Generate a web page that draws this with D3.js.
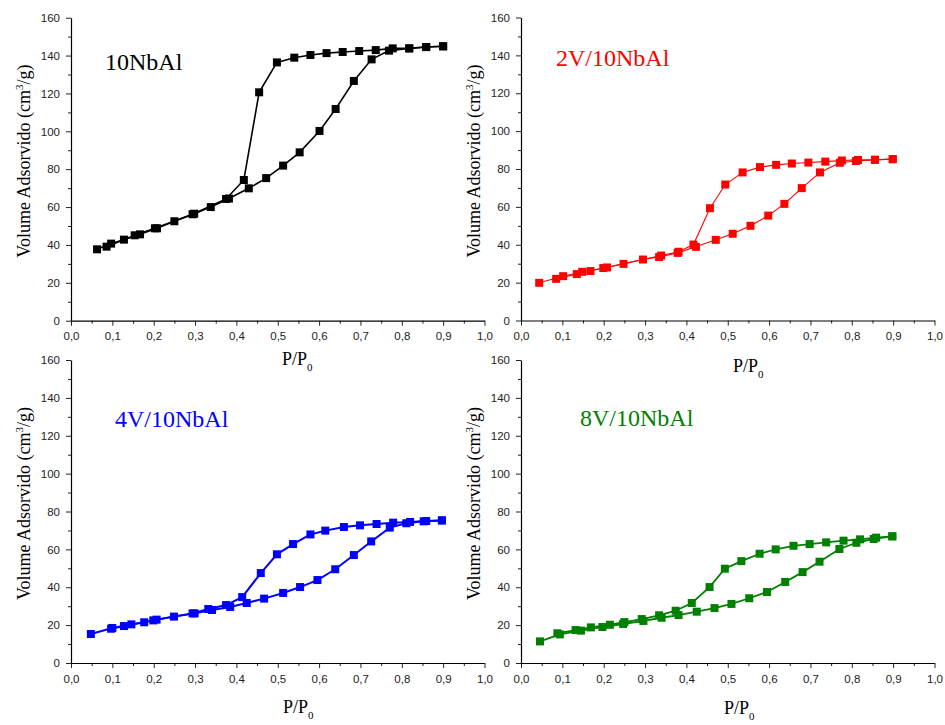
<!DOCTYPE html>
<html>
<head>
<meta charset="utf-8">
<script src="https://cdn.jsdelivr.net/npm/d3@7"></script>
<style>
  body { margin: 0; background: #fff; }
  svg { display: block; }
</style>
</head>
<body>
<div id="chart"></div>
<script>
// tick values
var xMajor = [0, 0.1, 0.2, 0.3, 0.4, 0.5, 0.6, 0.7, 0.8, 0.9, 1.0];
var xMinor = [0.05, 0.15, 0.25, 0.35, 0.45, 0.55, 0.65, 0.75, 0.85, 0.95];
var yMajor = [0, 20, 40, 60, 80, 100, 120, 140, 160];
var yMinor = [10, 30, 50, 70, 90, 110, 130, 150];

// 10NbAl
var ads10NbAl = [[0.063,37.7],[0.097,40.7],[0.128,42.8],[0.167,45.6],[0.208,48.8],[0.250,52.5],[0.298,56.5],[0.338,60.0],[0.382,64.5],[0.430,69.9],[0.472,75.3],[0.513,81.9],[0.553,88.9],[0.601,100.2],[0.640,111.8],[0.684,126.6],[0.727,138.0],[0.769,142.6],[0.818,143.8],[0.859,144.5],[0.900,144.9]];
var des10NbAl = [[0.900,144.9],[0.859,144.5],[0.818,143.8],[0.778,143.8],[0.737,142.9],[0.697,142.4],[0.657,141.9],[0.618,141.3],[0.579,140.3],[0.540,138.9],[0.498,136.4],[0.455,120.6],[0.418,74.3],[0.375,64.3],[0.294,56.2],[0.203,48.8],[0.154,45.1],[0.086,39.1]];

// 2V/10NbAl
var ads2V = [[0.044,19.9],[0.102,23.4],[0.148,25.7],[0.208,28.0],[0.248,29.9],[0.295,32.2],[0.334,33.5],[0.379,35.7],[0.423,38.9],[0.471,42.6],[0.512,45.8],[0.555,50.0],[0.598,55.4],[0.637,61.6],[0.679,69.9],[0.723,78.2],[0.771,83.3],[0.810,84.2],[0.856,84.8],[0.899,85.2]];
var des2V = [[0.899,85.2],[0.856,84.9],[0.815,84.8],[0.776,84.5],[0.736,83.9],[0.695,83.4],[0.655,82.9],[0.617,82.2],[0.578,81.0],[0.536,78.2],[0.494,71.8],[0.457,59.3],[0.417,40.1],[0.381,36.3],[0.339,34.3],[0.199,27.7],[0.168,26.1],[0.135,24.5],[0.085,22.0]];

// 4V/10NbAl
var ads4V = [[0.048,15.3],[0.100,18.5],[0.146,20.4],[0.199,22.5],[0.249,24.5],[0.299,26.2],[0.341,28.0],[0.385,29.6],[0.425,31.7],[0.467,34.0],[0.513,37.0],[0.554,40.1],[0.596,43.8],[0.639,49.5],[0.684,57.0],[0.726,64.2],[0.771,71.5],[0.811,73.8],[0.853,74.8],[0.897,75.3]];
var des4V = [[0.897,75.3],[0.859,75.0],[0.820,74.5],[0.779,74.1],[0.739,73.4],[0.699,72.7],[0.660,71.8],[0.615,69.9],[0.579,67.9],[0.537,62.8],[0.498,57.4],[0.459,47.5],[0.414,34.8],[0.375,30.6],[0.332,28.5],[0.294,26.2],[0.207,22.9],[0.177,21.5],[0.128,19.5],[0.097,18.1]];

// 8V/10NbAl
var ads8V = [[0.046,11.4],[0.094,15.1],[0.145,17.1],[0.197,19.0],[0.247,20.6],[0.296,22.2],[0.340,23.9],[0.381,25.3],[0.425,27.1],[0.468,29.0],[0.509,31.2],[0.552,34.2],[0.595,37.5],[0.639,42.8],[0.681,48.0],[0.722,53.5],[0.770,60.2],[0.811,63.5],[0.853,65.5],[0.898,66.9]];
var des8V = [[0.898,66.9],[0.859,66.2],[0.820,65.3],[0.780,64.6],[0.738,63.7],[0.698,62.8],[0.659,61.9],[0.616,60.0],[0.577,57.7],[0.533,53.8],[0.493,49.8],[0.456,40.1],[0.413,31.7],[0.374,27.6],[0.334,25.2],[0.292,23.2],[0.250,21.6],[0.215,20.2],[0.169,18.8],[0.132,17.4],[0.088,15.7]];

var svg = d3.select("#chart")
    .append("svg")
    .attr("width", 945)
    .attr("height", 725);

var width = 413.5, height = 303;
var serif = "'Liberation Serif', 'Times New Roman', serif";
var sans = "'Liberation Sans', Arial, sans-serif";
var fmt = function (d) { return d3.format(".1f")(d).replace(".", ","); };

function drawPanel(p) {
    var g = svg.append("g")
        .attr("transform", "translate(" + p.left + "," + p.top + ")");

    var x = d3.scaleLinear().domain([0, 1]).range([0, width]);
    var y = d3.scaleLinear().domain([0, 160]).range([height, 0]);

    // minor ticks first
    g.append("g")
        .attr("class", "minor")
        .attr("transform", "translate(0," + height + ")")
        .call(d3.axisBottom(x).tickValues(xMinor).tickSize(3).tickFormat(""));
    g.append("g")
        .attr("class", "minor")
        .call(d3.axisLeft(y).tickValues(yMinor).tickSize(3).tickFormat(""));

    // major axes
    g.append("g")
        .attr("class", "axis")
        .attr("transform", "translate(0," + height + ")")
        .call(d3.axisBottom(x).tickValues(xMajor).tickSize(5).tickSizeOuter(0).tickPadding(6.5).tickFormat(fmt));
    g.append("g")
        .attr("class", "axis")
        .call(d3.axisLeft(y).tickValues(yMajor).tickSize(5).tickSizeOuter(0).tickPadding(6));

    g.selectAll(".minor path").remove();
    g.selectAll(".domain").attr("stroke", "#000").attr("stroke-width", 1.2);
    g.selectAll(".tick line").attr("stroke", "#222");
    g.selectAll(".axis text")
        .style("font-family", sans)
        .attr("font-size", "11.5px")
        .attr("fill", "#222");

    // lines
    var line = d3.line()
        .x(function (d) { return x(d[0]); })
        .y(function (d) { return y(d[1]); });

    [p.ads, p.des].forEach(function (series) {
        g.append("path")
            .datum(series)
            .attr("fill", "none")
            .attr("stroke", p.color)
            .attr("stroke-width", p.lw)
            .attr("d", line);
    });

    // markers
    var ms = 8;
    g.append("g")
        .selectAll("rect")
        .data(p.ads.concat(p.des))
        .enter()
        .append("rect")
        .attr("x", function (d) { return x(d[0]) - ms / 2; })
        .attr("y", function (d) { return y(d[1]) - ms / 2; })
        .attr("width", ms)
        .attr("height", ms)
        .attr("fill", p.color);

    // sample label
    g.append("text")
        .attr("x", p.labelX)
        .attr("y", p.labelY)
        .style("font-family", serif)
        .attr("font-size", "24px")
        .attr("fill", p.color)
        .text(p.name);

    // y title
    var yt = g.append("text")
        .attr("transform", "translate(-41," + (height / 2 - 8) + ") rotate(-90)")
        .attr("text-anchor", "middle")
        .style("font-family", serif)
        .attr("font-size", "18px")
        .attr("fill", "#000");
    yt.append("tspan").text("Volume Adsorvido (cm");
    yt.append("tspan").attr("font-size", "11px").attr("dy", "-7").text("3");
    yt.append("tspan").attr("dy", "7").text("/g)");

    // x title
    var xt = g.append("text")
        .attr("x", p.xtX)
        .attr("y", height + p.xtY)
        .style("font-family", serif)
        .attr("font-size", "18px")
        .attr("fill", "#000");
    xt.append("tspan").text("P/P");
    xt.append("tspan").attr("font-size", "11px").attr("dy", "6").text("0");
}

drawPanel({ left: 71, top: 17.7, ads: ads10NbAl, des: des10NbAl, color: "#000000", lw: 1.6,
    name: "10NbAl", labelX: 34, labelY: 52, xtX: 211, xtY: 44 });
drawPanel({ left: 521, top: 17.5, ads: ads2V, des: des2V, color: "#ff0000", lw: 1.1,
    name: "2V/10NbAl", labelX: 35, labelY: 48.5, xtX: 212, xtY: 51 });
drawPanel({ left: 71, top: 360, ads: ads4V, des: des4V, color: "#0000ff", lw: 2,
    name: "4V/10NbAl", labelX: 44, labelY: 67, xtX: 212, xtY: 50 });
drawPanel({ left: 521, top: 360, ads: ads8V, des: des8V, color: "#008000", lw: 1.8,
    name: "8V/10NbAl", labelX: 59, labelY: 66, xtX: 203, xtY: 51 });
</script>
</body>
</html>
